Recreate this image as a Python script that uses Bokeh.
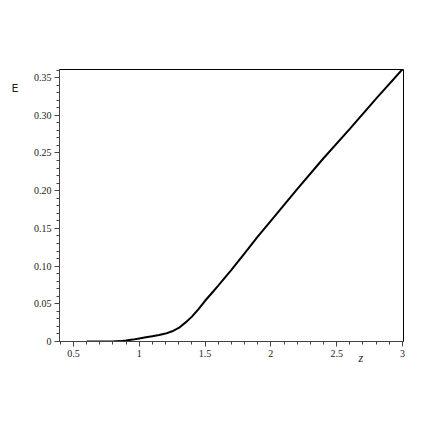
from bokeh.plotting import figure
from bokeh.models import FixedTicker, LinearAxis, Range1d
from bokeh.embed import file_html
from bokeh.resources import INLINE

# data
z_vals = [0.6, 0.7, 0.8, 0.85, 0.9, 0.95, 1.0, 1.05, 1.1, 1.15, 1.2, 1.25, 1.3,
          1.35, 1.4, 1.45, 1.5, 1.55, 1.6, 1.7, 1.8, 1.9, 2.0, 2.2, 2.4, 2.6,
          2.8, 3.0]
e_vals = [0.0, 0.0, 0.0, 0.0005, 0.0013, 0.0025, 0.004, 0.0055, 0.007, 0.0085,
          0.0105, 0.0135, 0.018, 0.025, 0.033, 0.043, 0.054, 0.064, 0.074,
          0.095, 0.117, 0.139, 0.160, 0.202, 0.243, 0.282, 0.322, 0.361]

x_ticks = [0.5, 1.0, 1.5, 2.0, 2.5, 3.0]
x_tick_labels = ["0.5", "1", "1.5", "2", "2.5", "3"]
x_minor = [0.4, 0.6, 0.7, 0.8, 0.9, 1.1, 1.2, 1.3, 1.4, 1.6, 1.7, 1.8, 1.9,
           2.1, 2.2, 2.3, 2.4, 2.6, 2.7, 2.8, 2.9]
y_ticks = [0.0, 0.05, 0.10, 0.15, 0.20, 0.25, 0.30, 0.35]
y_tick_labels = ["0", "0.05", "0.10", "0.15", "0.20", "0.25", "0.30", "0.35"]
y_minor = [round(i * 0.01, 2) for i in range(0, 37) if i % 5 != 0]

# axis-title positions (data coordinates)
x_title, x_title_at = "z", 2.684
y_title, y_title_at = "E", 0.3355

W, H = 430, 430
FL, FT, FR, FB = 59, 69, 403, 341
p = figure(width=W, height=H, output_backend="svg", toolbar_location=None,
           x_range=Range1d(0.3935, 3.008), y_range=Range1d(0.0, 0.3607),
           min_border_left=FL, min_border_right=W - FR, min_border_top=FT,
           min_border_bottom=H - FB)

p.line(z_vals, e_vals, line_color="black", line_width=2)

p.grid.visible = False
p.outline_line_color = "black"
p.outline_line_width = 1
p.background_fill_color = "white"
p.border_fill_color = "white"

for ax in (p.xaxis[0], p.yaxis[0]):
    ax.axis_line_color = "#444444"
    ax.major_tick_line_color = "#444444"
    ax.minor_tick_line_color = "#444444"
    ax.major_tick_in = 0
    ax.major_tick_out = 5
    ax.minor_tick_in = 0
    ax.minor_tick_out = 3
    ax.major_label_text_font = "Liberation Serif"
    ax.major_label_text_font_size = "10px"
    ax.major_label_text_color = "#222222"

p.xaxis[0].ticker = FixedTicker(ticks=x_ticks, minor_ticks=x_minor)
p.xaxis[0].major_label_overrides = {t: l for t, l in zip(x_ticks, x_tick_labels)}
p.xaxis[0].major_label_standoff = 3
p.yaxis[0].ticker = FixedTicker(ticks=y_ticks, minor_ticks=y_minor)
p.yaxis[0].major_label_overrides = {t: l for t, l in zip(y_ticks, y_tick_labels)}
p.yaxis[0].major_label_standoff = 3

# extra axes used only to carry the axis titles at their positions
xt = LinearAxis(ticker=FixedTicker(ticks=[x_title_at], minor_ticks=[]),
                major_label_overrides={x_title_at: x_title},
                axis_line_color=None, major_tick_line_color=None,
                minor_tick_line_color=None, major_tick_out=0, major_tick_in=0,
                minor_tick_out=0, minor_tick_in=0,
                major_label_standoff=-9,
                major_label_text_font="Liberation Serif",
                major_label_text_font_style="italic",
                major_label_text_font_size="12px",
                major_label_text_color="#222222")
p.add_layout(xt, "below")

yt = LinearAxis(ticker=FixedTicker(ticks=[y_title_at], minor_ticks=[]),
                major_label_overrides={y_title_at: y_title},
                axis_line_color=None, major_tick_line_color=None,
                minor_tick_line_color=None, major_tick_out=0, major_tick_in=0,
                minor_tick_out=0, minor_tick_in=0,
                major_label_standoff=12,
                major_label_text_font="DejaVu Sans",
                major_label_text_font_size="11px",
                major_label_text_color="#222222")
p.add_layout(yt, "left")

open("out.html", "w").write(file_html(p, INLINE))
